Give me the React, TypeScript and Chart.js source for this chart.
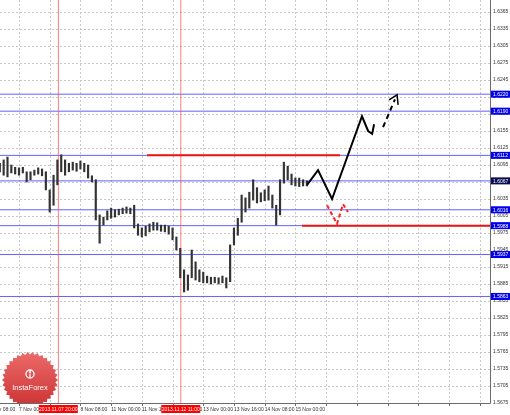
import React, { useEffect, useRef } from 'react';
import { Chart, registerables } from 'chart.js';

Chart.register(...registerables);

const FONT = "'Liberation Sans', Arial, sans-serif";

// hour index of each (2-hour) bar, 0 = 7 Nov 00:00
const barHours = [
  -10, -8, -6, -4, -2, 0, 2, 4, 6, 8, 10, 12, 14, 16, 18, 20, 22, 24, 26, 28,
  30, 32, 34, 36, 38, 40, 42, 44, 46, 48, 50, 52, 54, 56, 58, 60, 62, 64, 66, 68,
  70, 72, 74, 76, 78, 80, 82, 84, 86, 88, 90, 92, 94, 96, 98, 100, 102, 104, 106, 108,
  110, 112, 114, 116, 118, 120, 122, 124, 126, 128, 130, 132, 134, 136, 138, 140, 142, 144, 146, 148,
  150,
];
const highs = [
  1.6098, 1.6104, 1.6109, 1.6095, 1.6091, 1.6090, 1.6091, 1.6083, 1.6083, 1.6086,
  1.6090, 1.6088, 1.6083, 1.6051, 1.6077, 1.6104, 1.6113, 1.6104, 1.6098, 1.6100,
  1.6098, 1.6102, 1.6098, 1.6095, 1.6076, 1.6069, 1.6007, 1.6003, 1.6014, 1.6019,
  1.6016, 1.6017, 1.6019, 1.6021, 1.6019, 1.6024, 1.5991, 1.5984, 1.5987, 1.5991,
  1.5994, 1.5993, 1.5989, 1.5989, 1.5987, 1.5984, 1.5968, 1.5948, 1.5910, 1.5901,
  1.5945, 1.5924, 1.5910, 1.5906, 1.5899, 1.5897, 1.5897, 1.5896, 1.5899, 1.5896,
  1.5954, 1.5984, 1.6001, 1.6042, 1.6037, 1.6047, 1.6069, 1.6055, 1.6046, 1.6051,
  1.6058, 1.6042, 1.6024, 1.6069, 1.6100, 1.6093, 1.6079, 1.6072, 1.6072, 1.6069,
  1.6067,
];
const lows = [
  1.6083, 1.6077, 1.6074, 1.6081, 1.6079, 1.6077, 1.6081, 1.6065, 1.6069, 1.6077,
  1.6079, 1.6076, 1.6051, 1.6012, 1.6024, 1.6060, 1.6083, 1.6077, 1.6083, 1.6086,
  1.6084, 1.6088, 1.6083, 1.6072, 1.6065, 1.5998, 1.5957, 1.5989, 1.5998, 1.6001,
  1.6003, 1.6007, 1.6009, 1.6010, 1.6009, 1.5984, 1.5971, 1.5968, 1.5970, 1.5977,
  1.5980, 1.5980, 1.5978, 1.5977, 1.5973, 1.5963, 1.5945, 1.5896, 1.5871, 1.5874,
  1.5896, 1.5892, 1.5889, 1.5887, 1.5887, 1.5885, 1.5887, 1.5885, 1.5887, 1.5878,
  1.5889, 1.5954, 1.5971, 1.5994, 1.6012, 1.6019, 1.6033, 1.6028, 1.6030, 1.6032,
  1.6033, 1.6019, 1.5989, 1.6007, 1.6063, 1.6069, 1.6060, 1.6058, 1.6057, 1.6058,
  1.6058,
];

const yTicks = [
  1.6365, 1.6335, 1.6305, 1.6275, 1.6245, 1.6215, 1.6185, 1.6155, 1.6125, 1.6095,
  1.6065, 1.6035, 1.6005, 1.5975, 1.5945, 1.5915, 1.5885, 1.5855, 1.5825, 1.5795,
  1.5765, 1.5735, 1.5705, 1.5675,
];
const xTickHours = [-16, 0, 16, 32, 48, 64, 80, 96, 112, 128, 144, 160, 176, 192, 208, 224, 240];
const xTickLabels = [
  '6 Nov 08:00', '7 Nov 00:00', '7 Nov 16:00', '8 Nov 08:00', '11 Nov 00:00', '11 Nov 16:00',
  '12 Nov 08:00', '13 Nov 00:00', '13 Nov 16:00', '14 Nov 08:00', '15 Nov 00:00',
  '', '', '', '', '', '',
];

const levels = [1.6220, 1.6190, 1.6112, 1.6067, 1.6016, 1.5988, 1.5937, 1.5863];
const darkLevel = 1.6067;

const redLineStart = [66.7, 147.5];
const redLineEnd = [167.3, 245.4];
const redLineLevel = [1.6112, 1.5988];

const markerHours = [20.5, 84.3];
const markerLabels = ['2013.11.07 20:00', '2013.11.12 11:00'];

const fcHours = [150.1, 155.8, 163.1, 178.7, 181.9, 184.0, 185.0];
const fcPrices = [1.6060, 1.6086, 1.6035, 1.6181, 1.6155, 1.6150, 1.6167];
const dashHours = [189.7, 195.9];
const dashPrices = [1.6162, 1.6211];
const headHours = [192.8, 197.0, 197.5];
const headPrices = [1.6210, 1.6219, 1.6201];
const rdHours = [160.5, 165.7, 168.8, 171.4];
const rdPrices = [1.6024, 1.5991, 1.6026, 1.6012];

const X_MIN = -9.9;
const X_MAX = 245.4;
const Y_MIN = 1.5675;
const Y_MAX = 1.63862;

function drawLogo(ctx: CanvasRenderingContext2D, cx: number, cy: number) {
  const teeth = 34;
  const ro = 28;
  const ri = 25.5;
  ctx.beginPath();
  for (let i = 0; i < teeth * 2; i++) {
    const a = (i * Math.PI) / teeth;
    const r = i % 2 === 0 ? ro : ri;
    const px = cx + r * Math.cos(a);
    const py = cy + r * Math.sin(a);
    if (i === 0) ctx.moveTo(px, py);
    else ctx.lineTo(px, py);
  }
  ctx.closePath();
  const g = ctx.createLinearGradient(0, cy - ro, 0, cy + ro);
  g.addColorStop(0, '#ec6a6a');
  g.addColorStop(1, '#cc3232');
  ctx.fillStyle = g;
  ctx.fill();
  ctx.strokeStyle = '#fff';
  ctx.lineWidth = 1.3;
  ctx.beginPath();
  ctx.arc(cx, cy - 6, 4, 0, Math.PI * 2);
  ctx.stroke();
  ctx.fillStyle = '#fff';
  ctx.beginPath();
  ctx.arc(cx, cy - 8, 1.1, 0, Math.PI * 2);
  ctx.fill();
  ctx.fillRect(cx - 0.6, cy - 6.5, 1.2, 4);
  ctx.font = "7.5px 'Liberation Sans', Arial, sans-serif";
  ctx.textAlign = 'center';
  ctx.textBaseline = 'middle';
  ctx.fillText('InstaForex', cx, cy + 8);
}

const overlay = {
  id: 'overlay',
  beforeDatasetsDraw(chart: any) {
    const { ctx, chartArea: a, scales } = chart;
    const x = scales.x;
    const y = scales.y;
    ctx.save();
    ctx.strokeStyle = '#c8c8c8';
    ctx.lineWidth = 1;
    ctx.setLineDash([2, 2]);
    for (const v of yTicks) {
      const py = Math.round(y.getPixelForValue(v)) + 0.5;
      ctx.beginPath();
      ctx.moveTo(a.left, py);
      ctx.lineTo(a.right, py);
      ctx.stroke();
    }
    for (const h of xTickHours) {
      const px = Math.round(x.getPixelForValue(h)) + 0.5;
      if (px < a.left || px > a.right) continue;
      ctx.beginPath();
      ctx.moveTo(px, a.top);
      ctx.lineTo(px, a.bottom);
      ctx.stroke();
    }
    ctx.restore();
    ctx.save();
    ctx.beginPath();
    ctx.rect(a.left, a.top, a.right - a.left, a.bottom - a.top);
    ctx.clip();
    drawLogo(ctx, 30, 380);
    ctx.restore();
  },
  afterDraw(chart: any) {
    const { ctx, chartArea: a, scales } = chart;
    const x = scales.x;
    const y = scales.y;
    ctx.save();
    ctx.strokeStyle = '#6a6a6a';
    ctx.lineWidth = 1;
    ctx.beginPath();
    ctx.moveTo(a.right + 0.5, 0);
    ctx.lineTo(a.right + 0.5, a.bottom + 0.5);
    ctx.lineTo(a.left, a.bottom + 0.5);
    ctx.stroke();
    for (const h of xTickHours) {
      const px = Math.round(x.getPixelForValue(h)) + 0.5;
      if (px < a.left || px > a.right) continue;
      ctx.beginPath();
      ctx.moveTo(px, a.bottom);
      ctx.lineTo(px, a.bottom + 3);
      ctx.stroke();
    }
    ctx.font = `5px ${FONT}`;
    ctx.textBaseline = 'middle';
    ctx.textAlign = 'left';
    for (const L of levels) {
      const py = y.getPixelForValue(L);
      ctx.fillStyle = L === darkLevel ? '#0a0a50' : '#0000ee';
      ctx.fillRect(a.right + 1, py - 3.5, 19, 7);
      ctx.fillStyle = '#ffffff';
      ctx.fillText(L.toFixed(4), a.right + 3, py + 0.5);
    }
    ctx.textAlign = 'center';
    markerHours.forEach((h, i) => {
      const px = x.getPixelForValue(h);
      ctx.fillStyle = '#ff0000';
      ctx.fillRect(px - 19.5, a.bottom + 2, 39, 8);
      ctx.fillStyle = '#ffffff';
      ctx.fillText(markerLabels[i], px, a.bottom + 6.5);
    });
    ctx.restore();
  },
};

export default function App() {
  const ref = useRef<HTMLCanvasElement>(null);
  useEffect(() => {
    const line = (xs: number[], ys: number[], extra: any) => ({
      type: 'line',
      data: xs.map((v, i) => ({ x: v, y: ys[i] })),
      pointRadius: 0,
      fill: false,
      tension: 0,
      ...extra,
    });
    const datasets: any[] = [];
    levels.forEach((L) => {
      datasets.push(line([X_MIN, X_MAX], [L, L], { borderColor: 'rgba(90,90,255,0.95)', borderWidth: 1, order: 10 }));
    });
    markerHours.forEach((h) => {
      datasets.push(line([h, h], [Y_MIN, Y_MAX], { borderColor: 'rgba(255,80,80,0.75)', borderWidth: 1, order: 9 }));
    });
    redLineLevel.forEach((L, i) => {
      datasets.push(line([redLineStart[i], redLineEnd[i]], [L, L], { borderColor: '#ee1111', borderWidth: 2, order: 8 }));
    });
    datasets.push({
      type: 'bar',
      data: barHours.map((h, i) => ({ x: h, y: [lows[i], highs[i]] })),
      backgroundColor: '#333333',
      borderWidth: 0,
      barThickness: 1.5,
      order: 2,
    });
    datasets.push(line(fcHours, fcPrices, { borderColor: '#000', borderWidth: 2, order: 1 }));
    datasets.push(line(dashHours, dashPrices, { borderColor: '#000', borderWidth: 2, borderDash: [5, 4], order: 1 }));
    datasets.push(line(headHours, headPrices, { borderColor: '#000', borderWidth: 1.5, order: 1 }));
    datasets.push(line(rdHours, rdPrices, { borderColor: '#ff2020', borderWidth: 2, borderDash: [4, 3], order: 1 }));

    const chart = new Chart(ref.current as HTMLCanvasElement, {
      type: 'bar',
      data: { datasets },
      options: {
        responsive: false,
        animation: false,
        events: [],
        layout: { padding: 0 },
        plugins: { legend: { display: false }, tooltip: { enabled: false } },
        scales: {
          x: {
            type: 'linear',
            min: X_MIN,
            max: X_MAX,
            offset: false,
            grid: { display: false, drawTicks: false },
            border: { display: false },
            afterBuildTicks: (s: any) => {
              s.ticks = xTickHours.map((v) => ({ value: v }));
            },
            afterFit: (s: any) => {
              s.height = 12;
              s.paddingLeft = 0;
              s.paddingRight = 0;
            },
            ticks: {
              autoSkip: false,
              maxRotation: 0,
              minRotation: 0,
              align: 'start',
              padding: 4,
              color: '#333',
              font: { size: 5, family: FONT },
              callback: (_v: any, i: number) => xTickLabels[i] ?? '',
            },
          },
          y: {
            type: 'linear',
            position: 'right',
            min: Y_MIN,
            max: Y_MAX,
            beginAtZero: false,
            grid: { display: false, drawTicks: false },
            border: { display: false },
            afterBuildTicks: (s: any) => {
              s.ticks = yTicks.map((v) => ({ value: v }));
            },
            afterFit: (s: any) => {
              s.width = 20;
              s.paddingTop = 0;
              s.paddingBottom = 0;
            },
            ticks: {
              padding: 3,
              color: '#333',
              font: { size: 5, family: FONT },
              callback: (v: any) => Number(v).toFixed(4),
            },
          },
        },
      } as any,
      plugins: [overlay],
    } as any);
    return () => chart.destroy();
  }, []);
  return (
    <div style={{ position: 'absolute', left: 0, top: 0, width: 510, height: 415, background: '#fff' }}>
      <canvas ref={ref} width={510} height={415} style={{ display: 'block' }} />
    </div>
  );
}
